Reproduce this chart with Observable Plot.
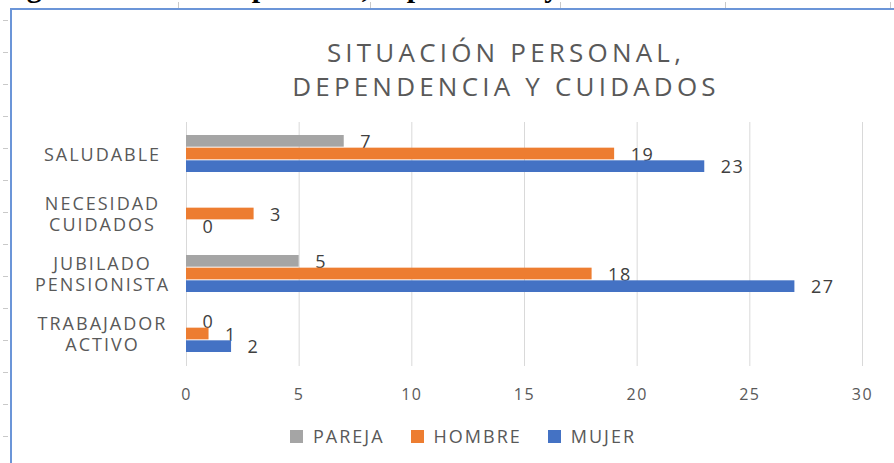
<!DOCTYPE html>
<html>
<head>
<meta charset="utf-8">
<script src="https://cdn.jsdelivr.net/npm/d3@7"></script>
<script src="https://cdn.jsdelivr.net/npm/@observablehq/plot@0.6"></script>
<style>
  html, body { margin: 0; padding: 0; background: #fff; }
  body { width: 894px; height: 463px; position: relative; overflow: hidden; font-family: "Open Sans", sans-serif; }
  #caption { position: absolute; left: 0; top: -28px; font: bold 30px/30px "Liberation Serif", "Times New Roman", serif; color: #000; white-space: nowrap; }
  #frame { position: absolute; left: 10px; top: 8px; width: 1000px; height: 600px; border-left: 2px solid #6b95d8; border-top: 2px solid #6b95d8; }
  #ruler-left { position: absolute; left: 3px; top: 0; width: 5px; height: 463px;
    background: repeating-linear-gradient(to bottom, transparent 0px, transparent 20px, #c9c9c9 20px, #c9c9c9 21px, transparent 21px, transparent 32px); }
  .rt { position: absolute; top: 2px; width: 1px; height: 6px; background: #c9c9c9; }
  #title { position: absolute; left: 206px; width: 600px; top: 35px; text-align: center; font-size: 26px; line-height: 34px; letter-spacing: 4.2px; color: #595959; }
  #chart { position: absolute; left: 0; top: 110px; }
  #legend { position: absolute; left: 290px; top: 424px; display: flex; align-items: center; font-size: 18px; letter-spacing: 2px; color: #595959; }
  #legend .item { display: flex; align-items: center; margin-right: 26px; }
  #legend .sw { width: 13px; height: 13px; margin-right: 10px; }
  g[aria-label="y-axis tick label"] text { letter-spacing: 2px; }
  g[aria-label="x-axis tick label"] text { letter-spacing: 1.5px; }
  g[aria-label="text"] text { letter-spacing: 1.5px; }
</style>
</head>
<body>
<div id="caption">Figura 5. Situación personal, dependencia y cuidados</div>
<div id="ruler-left"></div>
<div class="rt" style="left:178px"></div>
<div class="rt" style="left:370px"></div>
<div class="rt" style="left:560px"></div>
<div class="rt" style="left:725px"></div>
<div class="rt" style="left:890px"></div>
<div id="frame"></div>
<div id="title">SITUACIÓN PERSONAL,<br>DEPENDENCIA Y CUIDADOS</div>
<div id="chart"></div>
<div id="legend"></div>
<script>
// ---- data ----
const categories = ["SALUDABLE", "NECESIDAD CUIDADOS", "JUBILADO PENSIONISTA", "TRABAJADOR ACTIVO"];
const categoryLabels = ["SALUDABLE", "NECESIDAD\nCUIDADOS", "JUBILADO\nPENSIONISTA", "TRABAJADOR\nACTIVO"];
const seriesNames = ["PAREJA", "HOMBRE", "MUJER"];
const seriesColors = ["#a5a5a5", "#ed7d31", "#4472c4"];
const pareja = [7, null, 5, 0];
const hombre = [19, 3, 18, 1];
const mujer = [23, 0, 27, 2];
const xTicks = [0, 5, 10, 15, 20, 25, 30];

const seriesValues = [pareja, hombre, mujer];

// ---- layout ----
const W = 894, H = 300, mt = 12, mb = 44, ml = 186, mr = 32;
const padIn = 0.377, padOut = 0.19;
const step = (H - mt - mb) / (categories.length - padIn + 2 * padOut);
const bw = step * (1 - padIn);
const third = bw / seriesNames.length;

const marks = [
  Plot.gridX(xTicks, {stroke: "#d9d9d9", strokeOpacity: 1}),
  Plot.axisX(xTicks, {tickSize: 0, tickPadding: 22, fontSize: 16, label: null}),
  Plot.axisY({tickSize: 0, tickPadding: 84, textAnchor: "middle", fontSize: 18, lineHeight: 1.15,
              tickFormat: d => categoryLabels[categories.indexOf(d)], label: null})
];

seriesNames.forEach((name, k) => {
  const rows = categories
    .map((c, i) => ({cat: c, v: seriesValues[k][i]}))
    .filter(d => d.v != null);
  marks.push(Plot.barX(rows, {
    y: "cat", x1: 0, x2: "v", fill: seriesColors[k],
    insetTop: k * third, insetBottom: (seriesNames.length - 1 - k) * third
  }));
  marks.push(Plot.text(rows, {
    y: "cat", x: "v", text: d => String(d.v), textAnchor: "start",
    dx: 16, dy: (k - 1) * third + 1, fontSize: 18, fill: "#404040"
  }));
});

const chart = Plot.plot({
  width: W, height: H,
  marginTop: mt, marginBottom: mb, marginLeft: ml, marginRight: mr,
  x: {domain: [0, 30]},
  y: {domain: categories, paddingInner: padIn, paddingOuter: padOut},
  style: {fontFamily: "'Open Sans', sans-serif", color: "#595959", background: "transparent", overflow: "visible"},
  marks
});
document.getElementById("chart").appendChild(chart);

// legend
const legend = document.getElementById("legend");
seriesNames.forEach((name, k) => {
  const item = document.createElement("div");
  item.className = "item";
  const sw = document.createElement("div");
  sw.className = "sw";
  sw.style.background = seriesColors[k];
  const label = document.createElement("span");
  label.textContent = name;
  item.appendChild(sw);
  item.appendChild(label);
  legend.appendChild(item);
});
</script>
</body>
</html>
